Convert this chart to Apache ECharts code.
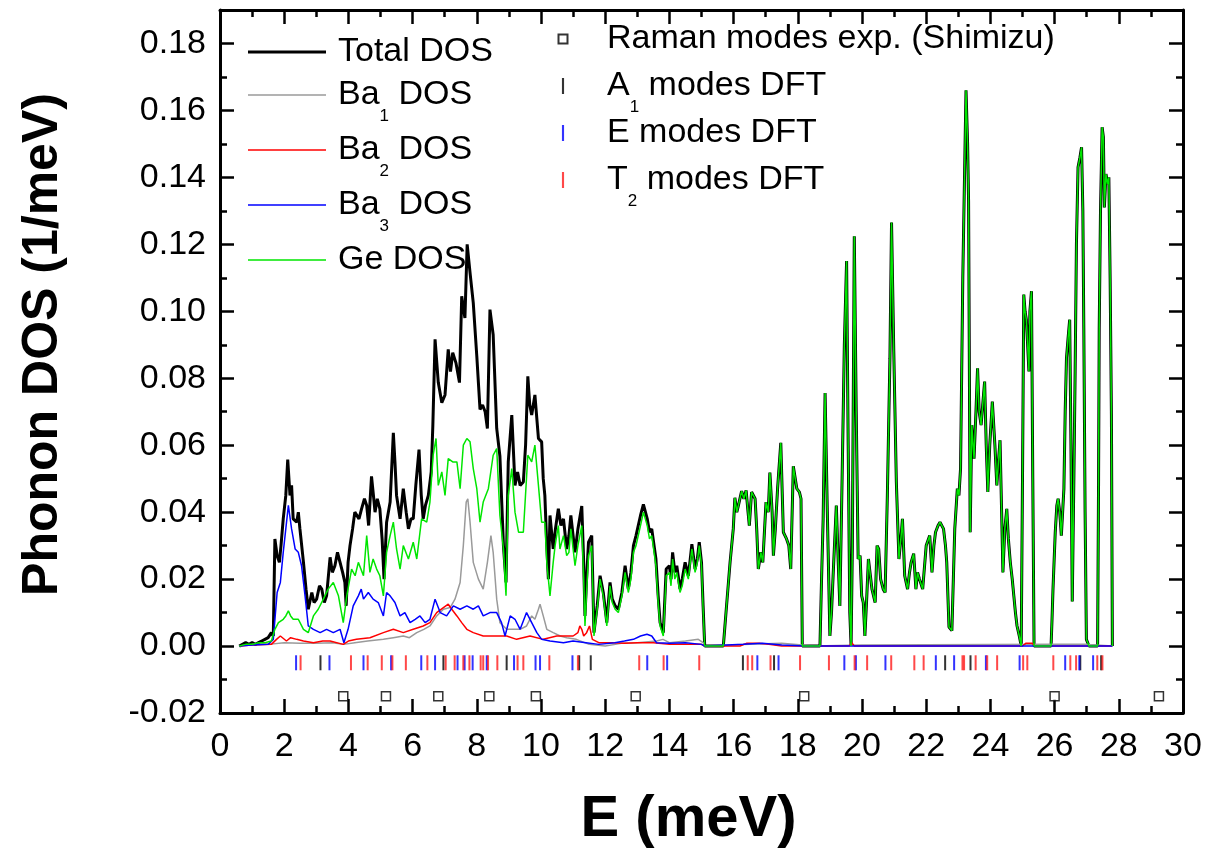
<!DOCTYPE html>
<html>
<head>
<meta charset="utf-8">
<script src="https://cdn.jsdelivr.net/npm/echarts@6/dist/echarts.min.js"></script>
<style>
  html, body { margin: 0; padding: 0; background: #fff; }
  #chart { width: 1210px; height: 854px; }
</style>
</head>
<body>
<div id="chart"></div>
<script>
// Phonon density of states, [E (meV), DOS (1/meV)]

// Total DOS below 15.1 meV
const totalLow = [[0.6,0],[0.7,0.0005],[0.8,0.001],[0.9,0.0005],[1.0,0.001],[1.1,0.0005],[1.2,0.001],[1.3,0.0015],[1.4,0.002],[1.5,0.0025],[1.6,0.004],[1.66,0.003],[1.71,0.032],[1.78,0.027],[1.85,0.025],[1.9,0.03],[1.97,0.038],[2.05,0.045],[2.11,0.0557],[2.18,0.045],[2.23,0.048],[2.28,0.038],[2.39,0.037],[2.44,0.04],[2.49,0.035],[2.6,0.025],[2.68,0.017],[2.75,0.011],[2.86,0.016],[2.93,0.013],[3.01,0.014],[3.1,0.018],[3.17,0.017],[3.25,0.013],[3.32,0.015],[3.43,0.0265],[3.5,0.022],[3.58,0.024],[3.66,0.028],[3.74,0.025],[3.82,0.022],[3.89,0.019],[3.93,0.012],[3.99,0.025],[4.05,0.03],[4.13,0.035],[4.2,0.04],[4.25,0.04],[4.33,0.038],[4.41,0.041],[4.5,0.044],[4.57,0.042],[4.63,0.036],[4.72,0.0507],[4.78,0.045],[4.83,0.04],[4.9,0.044],[4.98,0.041],[5.05,0.032],[5.11,0.02],[5.19,0.037],[5.3,0.043],[5.4,0.0637],[5.45,0.055],[5.5,0.045],[5.61,0.038],[5.71,0.047],[5.8,0.04],[5.87,0.035],[5.95,0.038],[6.02,0.038],[6.1,0.048],[6.2,0.0587],[6.27,0.045],[6.33,0.038],[6.4,0.042],[6.49,0.045],[6.58,0.052],[6.63,0.0657],[6.7,0.0916],[6.8,0.0787],[6.91,0.0727],[7.01,0.075],[7.11,0.0886],[7.18,0.082],[7.25,0.0876],[7.35,0.0846],[7.46,0.0787],[7.53,0.1045],[7.63,0.098],[7.7,0.12],[7.79,0.1115],[7.89,0.1025],[8.0,0.0866],[8.1,0.0707],[8.18,0.072],[8.26,0.07],[8.33,0.065],[8.41,0.1005],[8.51,0.093],[8.62,0.065],[8.72,0.0567],[8.83,0.03],[8.91,0.019],[8.98,0.055],[9.09,0.069],[9.19,0.048],[9.27,0.052],[9.35,0.048],[9.45,0.049],[9.52,0.06],[9.59,0.0806],[9.65,0.072],[9.71,0.069],[9.81,0.075],[9.92,0.062],[10.02,0.061],[10.07,0.05],[10.12,0.045],[10.18,0.03],[10.23,0.02],[10.28,0.039],[10.38,0.029],[10.45,0.035],[10.54,0.041],[10.62,0.036],[10.7,0.038],[10.8,0.029],[10.87,0.033],[10.93,0.039],[11.0,0.033],[11.06,0.028],[11.15,0.035],[11.27,0.0418],[11.33,0.025],[11.37,0.009],[11.42,0.02],[11.48,0.031],[11.58,0.033],[11.65,0.004],[11.75,0.012],[11.84,0.021],[11.94,0.016],[12.05,0.007],[12.15,0.019],[12.22,0.014],[12.31,0.012],[12.41,0.011],[12.52,0.016],[12.62,0.024],[12.72,0.017],[12.8,0.022],[12.88,0.03],[12.96,0.033],[13.03,0.036],[13.1,0.039],[13.19,0.0423],[13.31,0.038],[13.38,0.034],[13.45,0.035],[13.58,0.026],[13.65,0.015],[13.71,0.007],[13.81,0.004],[13.9,0.023],[14.0,0.024],[14.05,0.02],[14.1,0.028],[14.17,0.022],[14.23,0.024],[14.33,0.017],[14.4,0.02],[14.49,0.025],[14.59,0.021],[14.65,0.026],[14.7,0.0304],[14.8,0.023],[14.87,0.026],[14.93,0.031],[15.0,0.025],[15.05,0.012],[15.1,0]];

// Ge DOS below 15.1 meV
const geLow = [[0.6,0],[0.8,0.0005],[1.0,0.0005],[1.2,0.001],[1.4,0.001],[1.6,0.0015],[1.71,0.005],[1.82,0.007],[1.97,0.008],[2.05,0.009],[2.13,0.0105],[2.2,0.009],[2.28,0.008],[2.44,0.008],[2.6,0.005],[2.75,0.004],[2.91,0.009],[3.06,0.011],[3.22,0.014],[3.37,0.017],[3.53,0.019],[3.69,0.015],[3.84,0.007],[3.95,0.015],[4.1,0.023],[4.21,0.021],[4.31,0.025],[4.47,0.021],[4.57,0.033],[4.67,0.022],[4.77,0.026],[4.88,0.023],[4.98,0.021],[5.09,0.015],[5.19,0.028],[5.3,0.033],[5.4,0.037],[5.5,0.029],[5.61,0.023],[5.71,0.03],[5.87,0.026],[6.02,0.031],[6.13,0.026],[6.28,0.038],[6.44,0.037],[6.54,0.043],[6.64,0.057],[6.73,0.062],[6.8,0.048],[6.91,0.052],[7.01,0.045],[7.11,0.056],[7.25,0.055],[7.38,0.055],[7.48,0.047],[7.58,0.06],[7.69,0.062],[7.79,0.061],[7.89,0.053],[8.0,0.047],[8.1,0.037],[8.2,0.043],[8.36,0.047],[8.51,0.057],[8.62,0.059],[8.72,0.039],[8.83,0.029],[8.91,0.015],[8.98,0.045],[9.09,0.053],[9.19,0.04],[9.3,0.034],[9.45,0.034],[9.59,0.057],[9.71,0.055],[9.81,0.06],[9.92,0.048],[10.02,0.037],[10.12,0.037],[10.18,0.025],[10.28,0.015],[10.38,0.025],[10.44,0.03],[10.54,0.036],[10.59,0.029],[10.7,0.033],[10.8,0.027],[10.87,0.028],[10.93,0.035],[11.0,0.029],[11.06,0.024],[11.15,0.03],[11.27,0.036],[11.33,0.02],[11.37,0.006],[11.42,0.016],[11.48,0.027],[11.58,0.03],[11.65,0.003],[11.75,0.011],[11.84,0.02],[11.94,0.015],[12.05,0.006],[12.15,0.018],[12.22,0.013],[12.31,0.011],[12.41,0.01],[12.52,0.015],[12.62,0.022],[12.72,0.016],[12.8,0.02],[12.88,0.028],[12.96,0.03],[13.03,0.033],[13.1,0.036],[13.19,0.04],[13.31,0.036],[13.38,0.032],[13.45,0.033],[13.58,0.024],[13.65,0.013],[13.71,0.006],[13.81,0.003],[13.9,0.021],[14.0,0.022],[14.05,0.018],[14.1,0.026],[14.17,0.02],[14.23,0.022],[14.33,0.016],[14.4,0.018],[14.49,0.023],[14.59,0.02],[14.65,0.025],[14.7,0.029],[14.8,0.022],[14.87,0.025],[14.93,0.03],[15.0,0.024],[15.05,0.011],[15.1,0]];

// Above 15.6 meV the total DOS is carried by Ge alone (both curves coincide)
const upperBand = [[15.68,0],[15.73,0.006],[15.78,0.012],[15.89,0.025],[15.99,0.035],[16.04,0.0443],[16.1,0.04],[16.15,0.042],[16.25,0.0463],[16.32,0.044],[16.39,0.0465],[16.45,0.04],[16.49,0.036],[16.56,0.046],[16.67,0.044],[16.72,0.035],[16.77,0.023],[16.85,0.028],[16.91,0.025],[17.01,0.043],[17.08,0.04],[17.13,0.0518],[17.2,0.04],[17.24,0.027],[17.3,0.035],[17.37,0.047],[17.47,0.0607],[17.55,0.034],[17.65,0.032],[17.72,0.03],[17.78,0.023],[17.86,0.0537],[17.97,0.047],[18.05,0.046],[18.1,0.044],[18.14,0],[18.69,0],[18.74,0.02],[18.79,0.038],[18.85,0.0756],[18.92,0.04],[19.0,0.003],[19.05,0.01],[19.1,0.021],[19.2,0.042],[19.26,0.025],[19.31,0.012],[19.38,0.05],[19.45,0.09],[19.52,0.115],[19.57,0.06],[19.62,0.01],[19.66,0],[19.7,0.03],[19.76,0.1224],[19.82,0.07],[19.88,0.026],[19.94,0.027],[19.99,0.015],[20.04,0.013],[20.09,0.003],[20.15,0.015],[20.2,0.026],[20.25,0.026],[20.31,0.017],[20.36,0.017],[20.41,0.013],[20.47,0.03],[20.52,0.029],[20.58,0.02],[20.66,0.017],[20.72,0.016],[20.79,0.045],[20.87,0.086],[20.92,0.1265],[20.99,0.088],[21.07,0.049],[21.15,0.026],[21.22,0.033],[21.26,0.038],[21.33,0.021],[21.42,0.017],[21.48,0.022],[21.53,0.025],[21.61,0.0276],[21.68,0.017],[21.73,0.022],[21.79,0.02],[21.89,0.017],[22.0,0.03],[22.11,0.033],[22.18,0.022],[22.24,0.03],[22.29,0.034],[22.37,0.036],[22.43,0.037],[22.54,0.035],[22.6,0.03],[22.64,0.025],[22.71,0.0057],[22.8,0.0046],[22.89,0.035],[22.97,0.047],[23.02,0.045],[23.07,0.053],[23.14,0.11],[23.24,0.166],[23.29,0.15],[23.32,0.133],[23.37,0.034],[23.42,0.066],[23.49,0.056],[23.55,0.07],[23.6,0.083],[23.65,0.07],[23.71,0.066],[23.76,0.072],[23.82,0.079],[23.87,0.06],[23.92,0.046],[23.98,0.06],[24.06,0.073],[24.14,0.06],[24.2,0.048],[24.25,0.055],[24.3,0.0615],[24.35,0.04],[24.39,0.022],[24.45,0.035],[24.51,0.041],[24.56,0.032],[24.62,0.025],[24.68,0.02],[24.73,0.015],[24.78,0.01],[24.83,0.006],[24.9,0.003],[24.96,0],[25.0,0.05],[25.04,0.105],[25.08,0.1],[25.12,0.0975],[25.16,0.09],[25.2,0.082],[25.23,0.1],[25.28,0.106],[25.32,0.05],[25.36,0],[25.89,0],[25.92,0.008],[25.95,0.017],[26.02,0.034],[26.07,0.042],[26.11,0.044],[26.16,0.04],[26.21,0.033],[26.25,0.04],[26.29,0.047],[26.33,0.07],[26.37,0.086],[26.42,0.092],[26.47,0.0975],[26.51,0.06],[26.55,0.0133],[26.6,0.05],[26.64,0.082],[26.68,0.12],[26.73,0.143],[26.79,0.146],[26.84,0.149],[26.88,0.13],[26.91,0.095],[26.95,0.04],[26.99,0.002],[27.07,0],[27.34,0],[27.37,0.05],[27.39,0.095],[27.43,0.13],[27.48,0.155],[27.52,0.152],[27.55,0.131],[27.6,0.141],[27.65,0.138],[27.69,0.14],[27.73,0.11],[27.77,0.069],[27.8,0]];

const ba1Dos = [[0.6,0],[1.0,0.0005],[1.5,0.0005],[2.0,0.001],[2.5,0.0008],[3.0,0.0008],[3.5,0.001],[3.85,0.0005],[4.2,0.001],[4.6,0.0015],[5.09,0.002],[5.4,0.0025],[5.71,0.003],[5.9,0.0025],[6.13,0.004],[6.35,0.005],[6.54,0.006],[6.75,0.009],[6.96,0.011],[7.17,0.0115],[7.32,0.014],[7.48,0.019],[7.58,0.03],[7.67,0.043],[7.72,0.044],[7.79,0.037],[7.89,0.025],[8.05,0.02],[8.2,0.017],[8.33,0.025],[8.44,0.033],[8.51,0.028],[8.62,0.014],[8.72,0.007],[8.93,0.005],[9.14,0.005],[9.35,0.005],[9.55,0.006],[9.71,0.009],[9.81,0.008],[9.92,0.011],[9.97,0.0125],[10.02,0.012],[10.07,0.009],[10.18,0.005],[10.38,0.004],[10.6,0.003],[10.8,0.0025],[11.1,0.002],[11.5,0.0005],[12.0,0],[12.5,0.0008],[13.0,0.001],[13.6,0.0015],[13.8,0.002],[14.0,0.001],[14.5,0.0015],[14.9,0.002],[15.05,0.001],[15.1,0],[16.5,0.0005],[17.5,0.0008],[18.5,0],[20.0,0.0003],[26.0,0.0005],[27.0,0.0005],[27.8,0]];

const ba2Dos = [[0.6,0],[1.0,0.0003],[1.6,0.0005],[1.76,0.002],[1.88,0.003],[2.07,0.0015],[2.2,0.0025],[2.39,0.002],[2.6,0.0015],[2.91,0.001],[3.2,0.0015],[3.43,0.0015],[3.84,0.0005],[4.0,0.0015],[4.25,0.002],[4.67,0.0025],[5.09,0.004],[5.4,0.005],[5.71,0.004],[6.02,0.005],[6.33,0.006],[6.54,0.007],[6.75,0.01],[6.96,0.0115],[7.11,0.0125],[7.22,0.011],[7.38,0.009],[7.53,0.007],[7.69,0.005],[7.89,0.004],[8.2,0.003],[8.62,0.003],[8.93,0.003],[9.24,0.002],[9.66,0.003],[10.07,0.002],[10.49,0.003],[10.8,0.003],[11.0,0.003],[11.15,0.004],[11.21,0.006],[11.27,0.005],[11.33,0.003],[11.42,0.004],[11.51,0.006],[11.6,0.002],[11.8,0.001],[12.2,0.001],[12.6,0.0008],[13.0,0.001],[13.5,0.001],[14.0,0.0005],[15.0,0.0005],[15.1,0],[16.2,0],[16.4,0.0008],[16.8,0.0008],[17.1,0.0005],[17.5,0],[19.6,0],[19.68,0.001],[19.76,0],[25.0,0],[25.1,0.0008],[25.3,0.0008],[25.4,0],[27.8,0]];

const ba3Dos = [[0.6,0],[1.0,0.0003],[1.5,0.0005],[1.66,0.002],[1.78,0.016],[1.88,0.019],[1.97,0.028],[2.05,0.035],[2.13,0.042],[2.23,0.035],[2.34,0.029],[2.44,0.028],[2.54,0.024],[2.65,0.015],[2.75,0.006],[2.91,0.005],[3.12,0.004],[3.32,0.005],[3.53,0.004],[3.74,0.005],[3.86,0.001],[3.99,0.005],[4.15,0.012],[4.31,0.015],[4.4,0.017],[4.47,0.014],[4.62,0.016],[4.77,0.014],[4.93,0.013],[5.09,0.009],[5.19,0.016],[5.3,0.015],[5.45,0.013],[5.61,0.009],[5.76,0.01],[5.92,0.007],[6.08,0.008],[6.23,0.009],[6.39,0.007],[6.54,0.008],[6.7,0.014],[6.86,0.01],[7.06,0.009],[7.27,0.012],[7.48,0.011],[7.69,0.012],[7.89,0.011],[8.05,0.012],[8.2,0.009],[8.41,0.01],[8.62,0.01],[8.77,0.007],[8.88,0.003],[9.04,0.009],[9.19,0.008],[9.35,0.005],[9.55,0.01],[9.71,0.007],[9.87,0.004],[10.02,0.002],[10.28,0.0015],[10.7,0.001],[11.0,0.0015],[11.4,0.001],[11.8,0.0005],[12.3,0.001],[12.6,0.0015],[12.88,0.002],[13.1,0.003],[13.3,0.0035],[13.45,0.003],[13.6,0.001],[14.0,0.0008],[14.5,0.001],[15.0,0.0005],[15.1,0],[16.3,0.0005],[16.9,0.0008],[17.5,0.0003],[18.2,0],[27.8,0]];

// Mode energies (meV)
const ramanExp = [3.84, 5.17, 6.80, 8.39, 9.84, 12.95, 18.20, 26.0, 29.25];
const a1Modes = [3.13, 6.96, 8.93, 11.19, 11.55, 16.29, 17.26, 22.59, 23.38, 26.80, 27.45];
const eModes = [2.37, 3.41, 4.47, 5.33, 6.27, 6.70, 7.40, 7.62, 7.87, 8.31, 9.16, 9.83, 9.97, 10.98, 13.31, 13.93, 16.74, 17.40, 19.45, 19.81, 20.73, 22.30, 22.87, 23.86, 24.91, 26.33, 26.77, 27.20];
const t2Modes = [2.51, 4.08, 4.60, 5.04, 5.37, 5.79, 6.46, 7.03, 7.31, 7.58, 7.77, 8.12, 8.20, 8.35, 8.64, 9.27, 9.45, 10.26, 11.15, 13.06, 13.82, 14.93, 16.44, 16.58, 17.15, 18.07, 18.97, 19.77, 20.16, 20.91, 21.63, 21.92, 23.13, 23.18, 23.54, 23.90, 24.21, 25.02, 25.15, 25.96, 26.49, 26.67, 27.33, 27.49];

// Axis ticks
const xTicks = { min: 0, max: 30, step: 2 };
const yTicks = { min: -0.02, max: 0.19, step: 0.02, lastLabel: 0.18 };

// Rows below zero where the mode markers sit
const MODE_ROW = -0.005;
const RAMAN_ROW = -0.015;

const FONT = '"Liberation Sans", Arial, Helvetica, sans-serif';
const BLACK = '#000000';

const totalDos = totalLow.concat(upperBand);
const geDos = geLow.concat(upperBand);

const chart = echarts.init(document.getElementById('chart'), null, { renderer: 'canvas' });

const frameLine = { show: true, onZero: false, lineStyle: { color: BLACK, width: 3 } };
const majorTick = { show: true, inside: true, length: 14, lineStyle: { color: BLACK, width: 2.5 } };
const minorTick = { show: true, splitNumber: 2, length: 7, lineStyle: { color: BLACK, width: 2.5 } };

function yLabel(v) {
  const k = Math.round(v / yTicks.step);
  if (Math.abs(k * yTicks.step - v) > 1e-9 || v > yTicks.lastLabel + 1e-9) return '';
  const val = Math.abs(v) < 1e-9 ? 0 : v;
  return val.toFixed(2);
}

const subStyle = { fontSize: 17, lineHeight: 16, padding: [43, 0, 0, 0], fontFamily: FONT, color: BLACK };

function legendText(name) {
  if (name === 'Ge DOS') return 'Ge DOS{p| }';
  return name.replace(/^(Ba|A|T)(\d)/, '$1{s|$2}');
}

// Legend keys: short line segments, a small vertical tick and an open square
const thickKey = 'path://M0,0h52v2h-52z';
const thinKey = 'path://M0,0h104v2h-104z';
const tickIcon = 'path://M0,0h2v15h-2z';
const squareIcon = 'path://M0,0L0,0M16,16L16,16M3.5,3.5h9v9h-9z';

function lineSeries(name, data, color, width) {
  return {
    name: name, type: 'line', data: data,
    symbol: 'none', showSymbol: false,
    lineStyle: { color: color, width: width },
    itemStyle: { color: color },
    emphasis: { disabled: true },
    z: 2
  };
}

function modeSeries(name, energies, color) {
  return {
    name: name, type: 'scatter',
    data: energies.map(e => [e, MODE_ROW]),
    symbol: 'rect', symbolSize: [2, 15], symbolKeepAspect: true,
    itemStyle: { color: color },
    emphasis: { disabled: true },
    z: 3
  };
}

const option = {
  animation: false,
  backgroundColor: '#ffffff',
  grid: { left: 220, right: 27, top: 10, bottom: 140, containLabel: false },
  xAxis: [
    {
      type: 'value', min: xTicks.min, max: xTicks.max, interval: xTicks.step, position: 'bottom',
      axisLine: frameLine, axisTick: majorTick, minorTick: minorTick,
      splitLine: { show: false }, minorSplitLine: { show: false },
      axisLabel: { margin: 17, fontSize: 34, color: BLACK, fontFamily: FONT },
      name: 'E (meV)', nameLocation: 'middle', nameGap: 78,
      nameTextStyle: { fontSize: 58, fontWeight: 'bold', color: BLACK, fontFamily: FONT, padding: [0, 26, 0, 0] }
    },
    {
      type: 'value', min: xTicks.min, max: xTicks.max, interval: xTicks.step, position: 'top',
      axisLine: frameLine, axisTick: majorTick, minorTick: minorTick,
      splitLine: { show: false }, minorSplitLine: { show: false },
      axisLabel: { show: false }
    }
  ],
  yAxis: [
    {
      type: 'value', min: yTicks.min, max: yTicks.max, interval: yTicks.step, position: 'left',
      axisLine: frameLine, axisTick: majorTick, minorTick: minorTick,
      splitLine: { show: false }, minorSplitLine: { show: false },
      axisLabel: { margin: 14, fontSize: 34, color: BLACK, fontFamily: FONT, formatter: yLabel },
      name: 'Phonon DOS (1/meV)', nameLocation: 'middle', nameRotate: 90, nameGap: 152,
      nameTextStyle: { fontSize: 50, fontWeight: 'bold', color: BLACK, fontFamily: FONT, padding: [0, 0, 0, 34] }
    },
    {
      type: 'value', min: yTicks.min, max: yTicks.max, interval: yTicks.step, position: 'right',
      axisLine: frameLine, axisTick: majorTick, minorTick: minorTick,
      splitLine: { show: false }, minorSplitLine: { show: false },
      axisLabel: { show: false }
    }
  ],
  legend: [
    {
      data: [
        { name: 'Total DOS', icon: thickKey },
        { name: 'Ba1 DOS', icon: thinKey },
        { name: 'Ba2 DOS', icon: thinKey },
        { name: 'Ba3 DOS', icon: thinKey },
        { name: 'Ge DOS', icon: thinKey }
      ],
      orient: 'vertical', left: 248, top: 34, padding: 0, itemGap: -5,
      itemWidth: 78, itemHeight: 16, selectedMode: false, symbolKeepAspect: true,
      formatter: legendText,
      textStyle: {
        fontSize: 34, lineHeight: 36, color: BLACK, fontFamily: FONT, padding: [0, 0, 0, 7],
        rich: { s: subStyle, p: subStyle }
      }
    },
    {
      data: [
        { name: 'Raman modes exp. (Shimizu)', icon: squareIcon },
        { name: 'A1 modes DFT', icon: tickIcon },
        { name: 'E modes DFT', icon: tickIcon },
        { name: 'T2 modes DFT', icon: tickIcon }
      ],
      orient: 'vertical', left: 554, top: 21, padding: 0, itemGap: -1,
      itemWidth: 78, itemHeight: 16, selectedMode: false, symbolKeepAspect: true,
      formatter: legendText,
      textStyle: {
        fontSize: 34, lineHeight: 36, color: BLACK, fontFamily: FONT,
        rich: { s: subStyle }
      }
    }
  ],
  series: [
    lineSeries('Total DOS', totalDos, BLACK, 3),
    lineSeries('Ba1 DOS', ba1Dos, '#9a9a9a', 1.5),
    lineSeries('Ba2 DOS', ba2Dos, '#ff0000', 1.5),
    lineSeries('Ba3 DOS', ba3Dos, '#0000ff', 1.5),
    lineSeries('Ge DOS', geDos, '#00e600', 1.5),
    {
      name: 'Raman modes exp. (Shimizu)', type: 'scatter',
      data: ramanExp.map(e => [e, RAMAN_ROW]),
      symbol: 'rect', symbolSize: 9, symbolKeepAspect: true,
      itemStyle: { color: '#ffffff', borderColor: BLACK, borderWidth: 1.5 },
      emphasis: { disabled: true },
      z: 3
    },
    modeSeries('A1 modes DFT', a1Modes, BLACK),
    modeSeries('E modes DFT', eModes, '#0000ff'),
    modeSeries('T2 modes DFT', t2Modes, '#ff1a1a')
  ]
};

chart.setOption(option);
</script>
</body>
</html>
